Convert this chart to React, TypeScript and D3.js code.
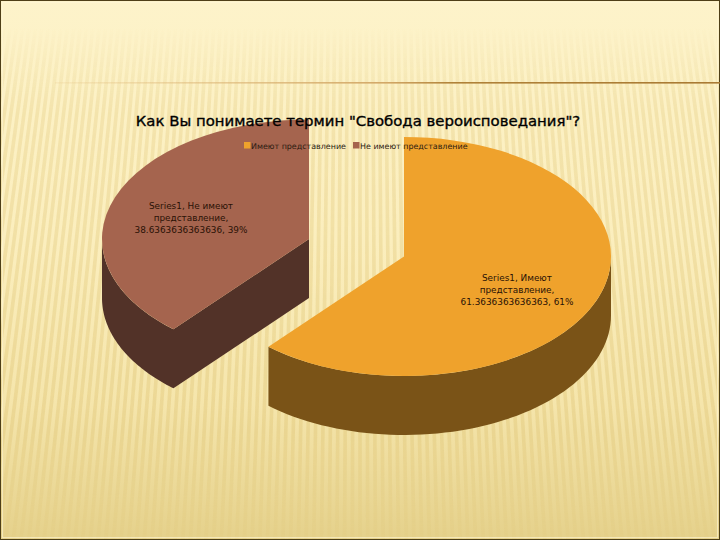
import React from 'react';
import * as d3 from 'd3';

const categories = ['Имеют представление', 'Не имеют представление'];
const values = [61.36363636363636, 38.63636363636363];
const percents = ['61%', '39%'];
const seriesName = 'Series1';
const title = 'Как Вы понимаете термин "Свобода вероисповедания"?';

const width = 720;
const height = 540;
const rx = 207;
const ry = 119.5;
const depth = 59;
const topColors = ['#efa22c', '#a5644e'];
const sideColors = ['#7a5317', '#523228'];
const centers = [
  { x: 404, y: 256.5 },
  { x: 309, y: 239 },
];
const font = '"DejaVu Sans", sans-serif';

const pie = d3.pie<number>().sort(null)(values);
const arc = d3.arc<d3.PieArcDatum<number>>().innerRadius(0).outerRadius(rx);

// point on the tilted rim, angle clockwise from 12 o'clock
const rim = (a: number) => ({ x: rx * Math.sin(a), y: -ry * Math.cos(a) });

const wall = d3
  .area<{ x: number; y: number }>()
  .x((d) => d.x)
  .y0((d) => d.y)
  .y1((d) => d.y + depth);

const sweep = (from: number, to: number) =>
  d3.range(0, 61).map((i) => rim(from + ((to - from) * i) / 60));

// orange shows its front wall, brown shows the cut face plus the front-left wall
const walls = [
  wall(sweep(Math.PI / 2, pie[0].endAngle)),
  wall([{ x: 0, y: 0 }, ...sweep(pie[1].startAngle, (3 * Math.PI) / 2)]),
];

const labelLines = (i: number) => {
  const words = categories[i].split(' ');
  const last = words.pop();
  return [`${seriesName}, ${words.join(' ')}`, `${last},`, `${values[i]}, ${percents[i]}`];
};
const labelSpots = [
  { x: 517, y: 281, value: '61.3636363636363' },
  { x: 191, y: 209, value: '38.6363636363636' },
];

// background stripes fan out from a point far above the slide
const stripeX = d3.range(-60, 61).map((i) => i * 7.6);
const focusY = -2400;

export default function App() {
  return (
    <svg
      width={width}
      height={height}
      viewBox={`0 0 ${width} ${height}`}
      style={{ position: 'absolute', left: 0, top: 0 }}
    >
      <defs>
        <linearGradient id="bg" x1="0" y1="0" x2="0" y2="1">
          <stop offset="0" stopColor="#fdf3ca" />
          <stop offset="0.45" stopColor="#fbeebd" />
          <stop offset="0.75" stopColor="#f5e5ab" />
          <stop offset="1" stopColor="#e5d18b" />
        </linearGradient>
        <linearGradient id="stripeFade" x1="0" y1="0" x2="0" y2="1">
          <stop offset="0.05" stopColor="#fff" stopOpacity="0" />
          <stop offset="0.2" stopColor="#fff" stopOpacity="0.7" />
          <stop offset="0.8" stopColor="#fff" stopOpacity="1" />
          <stop offset="1" stopColor="#fff" stopOpacity="0.35" />
        </linearGradient>
        <mask id="stripeMask">
          <rect width={width} height={height} fill="url(#stripeFade)" />
        </mask>
        <linearGradient id="rule" x1="0" y1="0" x2="1" y2="0">
          <stop offset="0" stopColor="#e0b878" stopOpacity="0.15" />
          <stop offset="0.5" stopColor="#d2a766" />
          <stop offset="0.6" stopColor="#b08238" />
          <stop offset="1" stopColor="#a97a33" />
        </linearGradient>
      </defs>

      <rect width={width} height={height} fill="url(#bg)" />
      <g mask="url(#stripeMask)">
        {stripeX.map((dx) => {
          const x = (y: number) => 360 + (dx * (y - focusY)) / (500 - focusY);
          return (
            <line
              key={dx}
              x1={x(0)}
              y1={0}
              x2={x(height)}
              y2={height}
              stroke="#e0c678"
              strokeOpacity={0.42}
              strokeWidth={3.6}
            />
          );
        })}
      </g>

      <rect x={0.5} y={0.5} width={width - 1} height={height - 1} fill="none" stroke="#4e3f17" />
      <rect x={2.5} y={2.5} width={width - 5} height={height - 5} fill="none" stroke="#fff6d8" strokeOpacity={0.6} />
      <rect x={55} y={82} width={width - 55} height={1.6} fill="url(#rule)" />

      {pie
        .map((d, i) => ({ d, i }))
        .reverse()
        .map(({ d, i }) => (
          <g key={categories[i]} transform={`translate(${centers[i].x},${centers[i].y})`}>
            <path d={walls[i] ?? ''} fill={sideColors[i]} />
            <path d={arc(d) ?? ''} transform={`scale(1,${ry / rx})`} fill={topColors[i]} />
          </g>
        ))}

      <text
        x={358}
        y={126}
        textAnchor="middle"
        fontFamily={font}
        fontSize={14.9}
        fontWeight={400}
        stroke="#000"
        strokeWidth={0.35}
        fill="#000"
      >
        {title}
      </text>

      {categories.map((c, i) => {
        const x = i === 0 ? 244 : 353;
        return (
          <g key={c}>
            <rect x={x} y={142} width={6.5} height={6.5} fill={topColors[i]} />
            <text x={x + 7} y={148.5} fontFamily={font} fontSize={7.95} fill="#2a1a10">
              {c}
            </text>
          </g>
        );
      })}

      {labelSpots.map((s, i) =>
        labelLines(i).map((line, j) => (
          <text
            key={j}
            x={s.x}
            y={s.y + j * 12}
            textAnchor="middle"
            fontFamily={font}
            fontSize={8.9}
            fill="#2a1206"
          >
            {j === 2 ? `${s.value}, ${percents[i]}` : line}
          </text>
        )),
      )}
    </svg>
  );
}
